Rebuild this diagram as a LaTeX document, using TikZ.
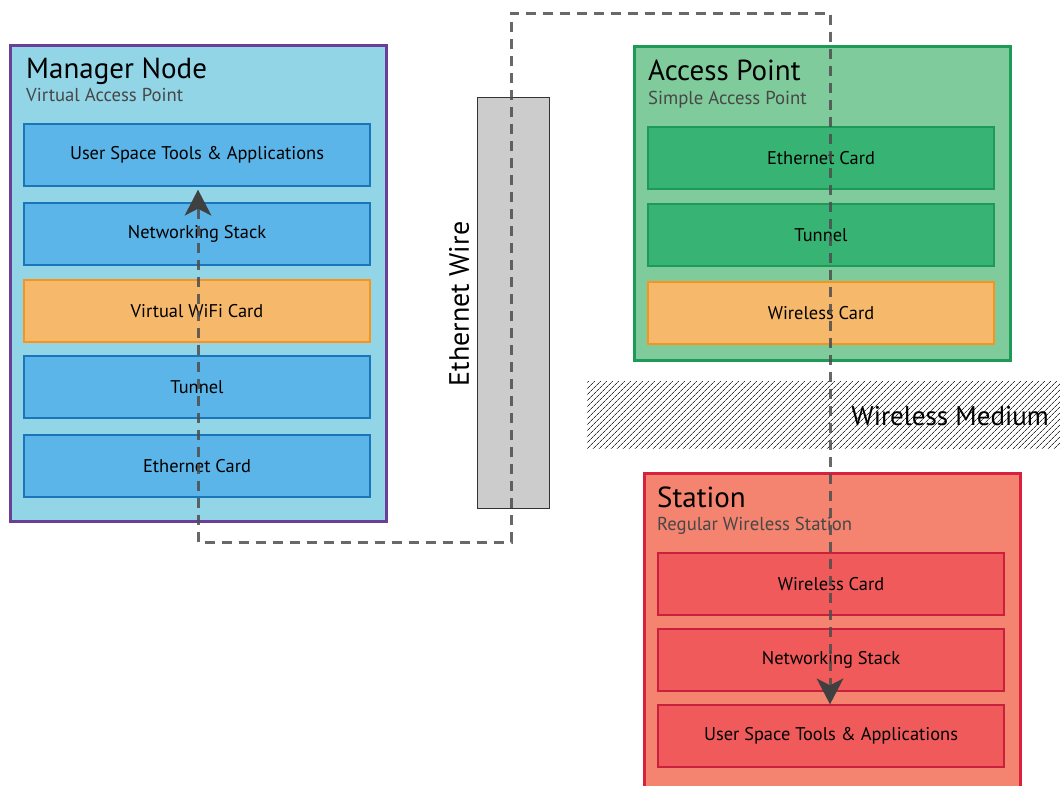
\documentclass[tikz,border=0pt]{standalone}
\usepackage{fontspec}
\setmainfont{PT Sans}
\usetikzlibrary{arrows.meta,patterns.meta}
\definecolor{mgrfill}{HTML}{91D5E6}
\definecolor{mgrdraw}{HTML}{6B3F98}
\definecolor{bluefill}{HTML}{5BB5E8}
\definecolor{bluedraw}{HTML}{1B75BB}
\definecolor{orfill}{HTML}{F6B86B}
\definecolor{ordraw}{HTML}{F7941D}
\definecolor{apfill}{HTML}{7FCB9B}
\definecolor{apdraw}{HTML}{1E9A57}
\definecolor{grfill}{HTML}{37B373}
\definecolor{grdraw}{HTML}{1E9A57}
\definecolor{stfill}{HTML}{F4836F}
\definecolor{stdraw}{HTML}{D8213D}
\definecolor{rdfill}{HTML}{F15A5A}
\definecolor{rddraw}{HTML}{C8203D}
\definecolor{wirefill}{HTML}{CCCCCC}
\definecolor{pathcol}{HTML}{4D4D4D}
\tikzset{
  outerbox/.style={line width=3pt, anchor=north west, inner sep=0pt},
  layer/.style={line width=1.4pt, minimum width=346pt, minimum height=62pt, inner sep=0pt, font=\fontsize{18.4}{21}\selectfont},
  bluelayer/.style={layer, fill=bluefill, draw=bluedraw},
  orlayer/.style={layer, fill=orfill, draw=ordraw},
  grlayer/.style={layer, fill=grfill, draw=grdraw},
  rdlayer/.style={layer, fill=rdfill, draw=rddraw},
  title/.style={anchor=base west, inner sep=0pt, font=\fontsize{29}{32}\selectfont},
  subtitle/.style={anchor=base west, inner sep=0pt, text=black!72, font=\fontsize{18.7}{21}\selectfont},
  flowtip/.tip={Stealth[length=26pt,width=27pt,inset=7pt,line width=0pt,color=black!75]},
  flow/.style={draw=pathcol, draw opacity=0.85, line width=3pt, dash pattern=on 10pt off 7pt, {flowtip}-{flowtip}}
}
\begin{document}
\begin{tikzpicture}[x=1pt,y=-1pt]
\useasboundingbox (0,0) rectangle (1060,785);
% Manager node
\node[outerbox, fill=mgrfill, draw=mgrdraw, minimum width=376pt, minimum height=476pt] (mgr) at (9,44) {};
\node[title] (mgrt) at (26,78) {Manager Node};
\node[subtitle] (mgrs) at (26,101) {Virtual Access Point};
\node[bluelayer] (m1) at (197,155) {User Space Tools \& Applications};
\node[bluelayer] (m2) at (197,234) {Networking Stack};
\node[orlayer] (m3) at (197,311) {Virtual WiFi Card};
\node[bluelayer] (m4) at (197,387) {Tunnel};
\node[bluelayer] (m5) at (197,466) {Ethernet Card};
% Ethernet wire
\node[draw=black!80, line width=1.2pt, fill=wirefill, anchor=north west, minimum width=72pt, minimum height=411pt, inner sep=0pt] (wire) at (477,97) {};
\node[rotate=90, inner sep=0pt, font=\fontsize{28}{30}\selectfont] (wiret) at (459,304) {Ethernet Wire};
% Access point
\node[outerbox, fill=apfill, draw=apdraw, minimum width=376pt, minimum height=314pt] (ap) at (633,45) {};
\node[title] (apt) at (648,80) {Access Point};
\node[subtitle] (aps) at (648,104) {Simple Access Point};
\node[grlayer] (a1) at (821,158) {Ethernet Card};
\node[grlayer] (a2) at (821,235) {Tunnel};
\node[orlayer] (a3) at (821,313) {Wireless Card};
% Wireless medium
\fill[pattern={Lines[angle=45,distance=4pt,line width=0.8pt]}, pattern color=black!80] (587,381) rectangle (1060,448);
\node[anchor=east, inner sep=0pt, font=\fontsize{27}{29}\selectfont] (wm) at (1049,416) {Wireless Medium};
% Station
\node[outerbox, fill=stfill, draw=stdraw, minimum width=376pt, minimum height=330pt] (st) at (643,472) {};
\node[title] (stt) at (657,507) {Station};
\node[subtitle] (sts) at (657,530) {Regular Wireless Station};
\node[rdlayer] (s1) at (831,584) {Wireless Card};
\node[rdlayer] (s2) at (831,660) {Networking Stack};
\node[rdlayer] (s3) at (831,736) {User Space Tools \& Applications};
% Flow path
\coordinate (c1) at (198,542);
\coordinate (c2) at (511,542);
\coordinate (c3) at (511,13);
\coordinate (c4) at (830,13);
\path[flow] (m1.south -| c1) ++(0,3) -- (c1) -- (c2) -- (c3) -- (c4) -- (s3.north -| c4);
\end{tikzpicture}
\end{document}
